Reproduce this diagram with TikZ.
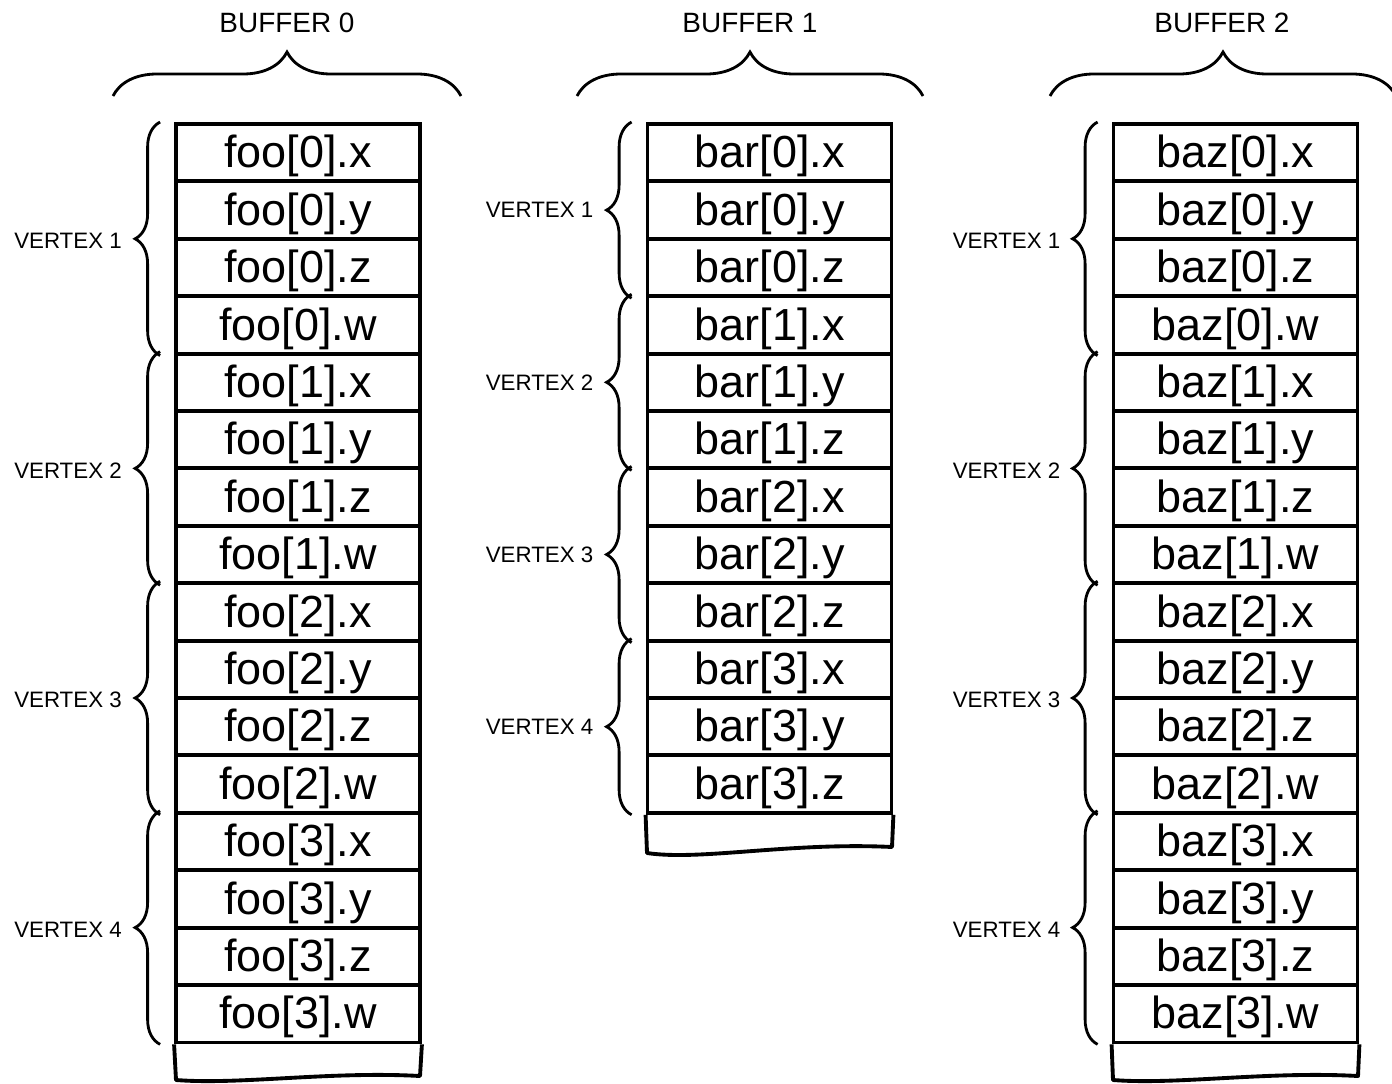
\documentclass[tikz,border=0pt]{standalone}
\usepackage{fontspec}
\setmainfont{Liberation Sans}
\usepackage{tikz}
\usetikzlibrary{decorations.pathreplacing}

\begin{document}
\begin{tikzpicture}[x=0.02cm,y=-0.02cm]
  \tikzstyle{cell}=[rectangle,draw,line width=2.2pt,minimum width=4.88cm,
                    minimum height=1.148cm,inner sep=0pt,text height=25pt,
                    text depth=7.7pt,font=\fontsize{25.6}{28}\selectfont]
  \tikzstyle{tail}=[line width=2.2pt,line join=round]
  \tikzstyle{vbrace}=[decorate,decoration={brace,amplitude=0.5cm},line width=1.6pt]
  \tikzstyle{bbrace}=[decorate,decoration={brace,amplitude=0.88cm},line width=1.6pt]
  \tikzstyle{vlabel}=[anchor=east,inner sep=0pt,font=\fontsize{12.7}{14}\selectfont]
  \tikzstyle{blabel}=[inner sep=0pt,font=\fontsize{15.9}{18}\selectfont]
  \useasboundingbox (0,0) rectangle (1392,1084);

  % buffer 0
  \node [blabel] (buf0) at (287,23) {BUFFER 0};
  \draw [bbrace] (113,96) -- (461,96);
  \foreach \k in {0,...,3}
    \foreach \c [count=\j] in {x,y,z,w} {
      \pgfmathtruncatemacro{\r}{4*\k+\j}
      \node [cell] (foo\r) at (298,{95.3+57.4*\r}) {foo[\k].\c};
    }
  \foreach \v in {1,...,4} {
    \pgfmathtruncatemacro{\a}{4*\v-3}
    \pgfmathtruncatemacro{\b}{4*\v}
    \pgfmathtruncatemacro{\m}{4*\v-2}
    \draw [vbrace] ([xshift=-0.28cm]foo\b.south west) -- ([xshift=-0.28cm]foo\a.north west);
    \node [vlabel] (vfoo\v) at ([xshift=-1.04cm]foo\m.south west) {VERTEX \v};
  }
  \draw [tail] (foo16.south west) -- (176,1080)
    .. controls (240,1085) and (330,1071) .. (420,1076) -- (foo16.south east);

  % buffer 1
  \node [blabel] (buf1) at (750,23) {BUFFER 1};
  \draw [bbrace] (577,96) -- (923,96);
  \foreach \k in {0,...,3}
    \foreach \c [count=\j] in {x,y,z} {
      \pgfmathtruncatemacro{\r}{3*\k+\j}
      \node [cell] (bar\r) at (769.5,{95.3+57.4*\r}) {bar[\k].\c};
    }
  \foreach \v in {1,...,4} {
    \pgfmathtruncatemacro{\a}{3*\v-2}
    \pgfmathtruncatemacro{\b}{3*\v}
    \pgfmathtruncatemacro{\m}{3*\v-1}
    \draw [vbrace] ([xshift=-0.28cm]bar\b.south west) -- ([xshift=-0.28cm]bar\a.north west);
    \node [vlabel] (vbar\v) at ([xshift=-1.04cm]bar\m.west) {VERTEX \v};
  }
  \draw [tail] (bar12.south west) -- (647,853)
    .. controls (700,861) and (790,842) .. (892,847) -- (bar12.south east);

  % buffer 2
  \node [blabel] (buf2) at (1222,23) {BUFFER 2};
  \draw [bbrace] (1050,96) -- (1396,96);
  \foreach \k in {0,...,3}
    \foreach \c [count=\j] in {x,y,z,w} {
      \pgfmathtruncatemacro{\r}{4*\k+\j}
      \node [cell] (baz\r) at (1235.5,{95.3+57.4*\r}) {baz[\k].\c};
    }
  \foreach \v in {1,...,4} {
    \pgfmathtruncatemacro{\a}{4*\v-3}
    \pgfmathtruncatemacro{\b}{4*\v}
    \pgfmathtruncatemacro{\m}{4*\v-2}
    \draw [vbrace] ([xshift=-0.28cm]baz\b.south west) -- ([xshift=-0.28cm]baz\a.north west);
    \node [vlabel] (vbaz\v) at ([xshift=-1.02cm]baz\m.south west) {VERTEX \v};
  }
  \draw [tail] (baz16.south west) -- (1113,1080)
    .. controls (1177,1085) and (1267,1071) .. (1358,1076) -- (baz16.south east);
\end{tikzpicture}
\end{document}
